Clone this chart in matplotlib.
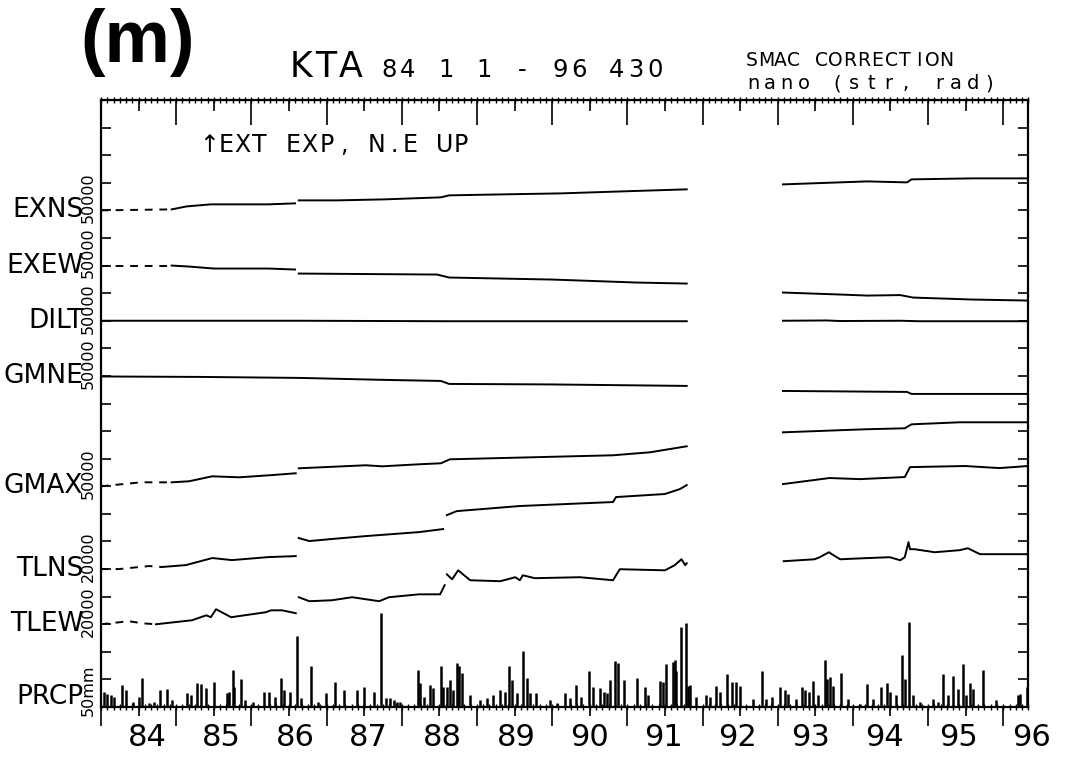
import numpy as np
import matplotlib.pyplot as plt
from matplotlib.transforms import blended_transform_factory

plt.rcParams['font.family'] = 'DejaVu Sans'

nan = np.nan

# channels: name, baseline level (in tick units), scale label, units per tick
channels = ['EXNS', 'EXEW', 'DILT', 'GMNE', 'GMAX', 'TLNS', 'TLEW', 'PRCP']
levels = [18, 16, 14, 12, 8, 5, 3, 0]
scale_labels = ['50000', '50000', '50000', '50000', '50000', '20000', '20000', '50mm']
per_tick = [50000, 50000, 50000, 50000, 50000, 20000, 20000, 50]

# (decimal year, nano) pairs; (nan, nan) marks a break in the record
exns = [(84.00, 0), (84.94, 1800), (85.14, 7200), (85.46, 10900), (86.22, 10900),
        (86.58, 12700), (nan, nan), (86.63, 18100), (87.14, 18100), (87.76, 19900),
        (88.52, 23600), (88.63, 27200), (89.35, 29000), (90.12, 30800),
        (90.93, 34400), (91.79, 38100), (nan, nan), (93.07, 47100), (94.19, 52500),
        (94.72, 50700), (94.78, 56200), (95.60, 58000), (96.33, 58000)]
exew = [(84.00, 0), (84.94, 0), (85.17, -1800), (85.50, -5400), (86.22, -5400),
        (86.58, -7200), (nan, nan), (86.63, -14500), (88.47, -16300),
        (88.63, -21700), (90.01, -25400), (91.13, -30800), (91.79, -32600),
        (nan, nan), (93.07, -48900), (93.83, -52500), (94.19, -54400),
        (94.63, -53500), (94.80, -58000), (95.60, -61600), (96.33, -63400)]
dilt = [(84.00, 0), (86.65, 0), (88.63, -900), (91.79, -900), (nan, nan),
        (93.07, 0), (93.65, 500), (93.83, -500), (94.63, 0), (94.89, -900),
        (96.33, -900)]
gmne = [(84.00, -1000), (85.32, -1800), (86.65, -3600), (87.71, -7000),
        (88.52, -9100), (88.63, -14500), (89.97, -15400), (91.79, -18100),
        (nan, nan), (93.07, -27200), (94.72, -29000), (94.78, -32600),
        (96.33, -32600)]
gmax = [(84.00, 0), (84.53, 7200), (84.94, 7200), (85.17, 9100), (85.48, 18100),
        (85.84, 16300), (86.23, 19900), (86.59, 23600), (nan, nan),
        (86.63, 32600), (87.52, 38100), (87.74, 36200), (88.23, 39900),
        (88.52, 41700), (88.64, 48900), (90.81, 56200), (91.30, 61600),
        (91.79, 72500), (nan, nan), (93.07, 97800), (94.16, 103300),
        (94.69, 105100), (94.78, 112300), (95.42, 116000), (96.33, 116000)]
tlns = [(84.00, 0), (84.24, 0), (84.64, 2200), (84.81, 1500), (85.13, 2900),
        (85.48, 8000), (85.74, 6500), (86.23, 8700), (86.59, 9400), (nan, nan),
        (86.63, 22500), (86.77, 20300), (87.07, 21800), (87.52, 23900),
        (88.23, 26800), (88.55, 29000), (nan, nan), (88.60, 39100),
        (88.73, 42000), (89.57, 45700), (90.81, 48600), (90.85, 52200),
        (91.50, 54400), (91.70, 58000), (91.79, 60900), (nan, nan),
        (93.07, 61600), (93.69, 66000), (94.09, 65200), (94.69, 66700),
        (94.76, 73900), (95.49, 74700), (95.95, 73200), (96.33, 74700)]
tlew = [(84.00, 0), (84.37, 2200), (84.55, 700), (84.73, 0), (85.21, 2900),
        (85.40, 6500), (85.46, 5100), (85.53, 10900), (85.73, 5100),
        (86.19, 8700), (86.26, 10100), (86.41, 10100), (86.59, 8000), (nan, nan),
        (86.63, 19600), (86.77, 16700), (87.07, 17400), (87.34, 19600),
        (87.70, 16700), (87.83, 19600), (88.23, 21700), (88.51, 21700),
        (88.57, 28300), (nan, nan), (88.60, 36200), (88.67, 32600),
        (88.75, 39100), (88.91, 31900), (89.31, 31200), (89.51, 34100),
        (89.57, 31900), (89.61, 35500), (89.77, 33400), (90.37, 34100),
        (90.81, 31900), (90.90, 39900), (91.50, 39100), (91.63, 42800),
        (91.72, 47100), (91.77, 42800), (91.79, 44200), (nan, nan),
        (93.08, 45700), (93.49, 47100), (93.56, 48600), (93.68, 52200),
        (93.83, 47100), (94.16, 47900), (94.49, 48600), (94.63, 46400),
        (94.69, 48600), (94.74, 59500), (94.76, 54400), (94.82, 54400),
        (95.09, 52200), (95.42, 53700), (95.53, 55100), (95.69, 50800),
        (96.33, 50800)]

# daily precipitation peaks (decimal year, mm)
prcp = [(84.04, 28), (84.08, 24), (84.13, 22), (84.17, 19), (84.28, 40), (84.33, 31),
        (84.42, 10), (84.51, 19), (84.54, 52), (84.64, 7), (84.70, 10), (84.79, 30),
        (84.88, 33), (84.95, 13), (85.15, 25), (85.19, 22), (85.28, 43), (85.33, 42),
        (85.39, 34), (85.50, 45), (85.68, 25), (85.70, 28), (85.75, 68), (85.77, 37),
        (85.86, 51), (85.92, 13), (86.02, 10), (86.17, 28), (86.23, 28), (86.32, 19),
        (86.39, 52), (86.43, 31), (86.52, 28), (86.61, 128), (86.66, 16), (86.79, 74),
        (86.88, 10), (86.99, 25), (87.11, 45), (87.23, 31), (87.41, 30), (87.50, 36),
        (87.63, 28), (87.73, 170), (87.79, 16), (87.85, 16), (87.89, 13), (87.94, 10),
        (87.98, 10), (88.09, 2), (88.22, 68), (88.24, 43), (88.29, 19), (88.37, 40),
        (88.42, 34), (88.52, 74), (88.55, 37), (88.60, 36), (88.64, 49), (88.68, 31),
        (88.73, 80), (88.76, 75), (88.80, 62), (88.91, 22), (89.04, 13), (89.13, 16),
        (89.22, 22), (89.31, 31), (89.37, 28), (89.42, 74), (89.47, 49), (89.53, 25),
        (89.61, 101), (89.66, 52), (89.70, 25), (89.79, 25), (89.97, 13), (90.06, 7),
        (90.17, 25), (90.24, 16), (90.32, 40), (90.39, 19), (90.49, 65), (90.55, 37),
        (90.64, 34), (90.69, 28), (90.73, 25), (90.77, 49), (90.84, 83), (90.88, 80),
        (90.95, 49), (91.13, 52), (91.23, 37), (91.28, 21), (91.43, 48), (91.48, 46),
        (91.52, 78), (91.61, 82), (91.63, 85), (91.65, 66), (91.72, 145), (91.78, 153),
        (91.81, 39), (91.84, 40), (91.92, 18), (92.05, 21), (92.10, 18), (92.18, 38),
        (92.23, 27), (92.33, 59), (92.39, 45), (92.44, 46), (92.50, 38), (92.67, 15),
        (92.79, 65), (92.85, 15), (92.92, 18), (93.03, 36), (93.10, 30), (93.14, 24),
        (93.25, 15), (93.32, 36), (93.36, 30), (93.41, 27), (93.47, 48), (93.54, 21),
        (93.63, 85), (93.66, 51), (93.69, 54), (93.74, 38), (93.84, 62), (93.94, 15),
        (94.09, 6), (94.19, 42), (94.27, 15), (94.37, 36), (94.46, 44), (94.49, 27),
        (94.58, 21), (94.65, 94), (94.69, 51), (94.74, 154), (94.80, 21), (94.89, 9),
        (95.06, 15), (95.13, 9), (95.20, 59), (95.27, 21), (95.33, 56), (95.40, 33),
        (95.46, 78), (95.51, 21), (95.56, 43), (95.60, 33), (95.73, 68), (95.82, 2),
        (95.90, 12), (96.04, 2), (96.20, 21), (96.22, 24), (96.31, 36)]

traces = [exns, exew, dilt, gmne, gmax, tlns, tlew]
year_labels = [str(y) for y in range(84, 97)]

fig = plt.figure(figsize=(10.68, 7.57), dpi=100)
ax = fig.add_axes([0.0946, 0.0660, 0.868, 0.8019])
ax.set_xlim(84, 96.33)
ax.set_ylim(0, 22)

for pairs, lev, scl in zip(traces, levels, per_tick):
    t = np.array([p[0] for p in pairs])
    y = lev + np.array([p[1] for p in pairs]) / scl
    k = np.searchsorted(t, 84.95)
    # record start is dashed (sparse sampling), the rest solid
    ax.plot(t[:k], y[:k], color='k', lw=1.4, dashes=(4, 3.5))
    ax.plot(t[k - 1:], y[k - 1:], color='k', lw=1.4)

pt = np.array([p[0] for p in prcp])
pv = np.array([p[1] for p in prcp]) / per_tick[-1]
ax.vlines(pt, 0, pv, color='k', lw=1.8)

for sp in ax.spines.values():
    sp.set_linewidth(1.6)

# y ticks on both sides, pointing in
ax.set_yticks(np.arange(23))
ax.tick_params(axis='y', direction='in', length=7, width=1.2,
               left=True, right=True, labelleft=False)

# bottom: year boundaries long, half years short
years = np.arange(84, 97)
half = np.arange(84.5, 96.5, 1.0)
months = np.arange(84, 96.34, 1 / 12)
ax.set_xticks(years)
ax.set_xticks(half, minor=True)
ax.tick_params(axis='x', which='major', direction='out', length=14, width=1.2,
               labelbottom=False)
ax.tick_params(axis='x', which='minor', direction='out', length=6.5, width=1.2)

top = ax.secondary_xaxis('top')
top.set_xticks(years)
top.set_xticks(half, minor=True)
top.tick_params(axis='x', which='major', direction='in', length=18, width=1.2,
                labeltop=False)
top.tick_params(axis='x', which='minor', direction='in', length=8, width=1.2)

bx = blended_transform_factory(ax.transData, ax.transAxes)
for yv in (0, 1):
    ax.plot(months, np.full(len(months), yv), transform=bx, ls='none',
            marker='|', ms=4, mew=1.0, color='k', clip_on=False)

# plotter labels drift slightly left of mid-year across the span
for i, (y, lab) in enumerate(zip(years, year_labels)):
    ax.text(y + 0.62 - 0.02 * i, -0.051, lab, transform=bx, ha='center',
            va='center', fontsize=22)

by = blended_transform_factory(ax.transAxes, ax.transData)
for name, lev, sl in zip(channels, levels, scale_labels):
    ly = lev + 0.35 if name == 'PRCP' else lev
    ax.text(-0.019, ly, name, transform=by, ha='right', va='center', fontsize=19)
    sy = lev + 0.6 if name == 'PRCP' else lev + 0.45
    ax.text(-0.0135, sy, sl, transform=by, ha='center', va='center',
            rotation=90, fontsize=11.5)


def pitched(x0, y0, s, pitch, size):
    # fixed-pitch lettering, one glyph per cell (x0, pitch in pixels)
    W, H = fig.get_size_inches() * fig.dpi
    for i, ch in enumerate(s):
        if ch != ' ':
            fig.text((x0 + i * pitch) / W, 1 - y0 / H, ch, fontsize=size,
                     ha='center', va='baseline')


fig.text(0.0749, 0.9445, '(m)', fontsize=53, family='Liberation Sans',
         weight='bold', va='center', ha='left')
pitched(301, 77, 'KTA', 25, 25)
pitched(389, 77, '84 1 1 - 96 430', 19, 17.5)
pitched(752, 66, 'SMAC CORRECTION', 13.9, 13.5)
pitched(753, 89, 'nano (str, rad)', 16.9, 14)
pitched(209, 152, '\u2191EXT EXP, N.E UP', 16.8, 17)

fig.savefig('out.png', dpi=100)
